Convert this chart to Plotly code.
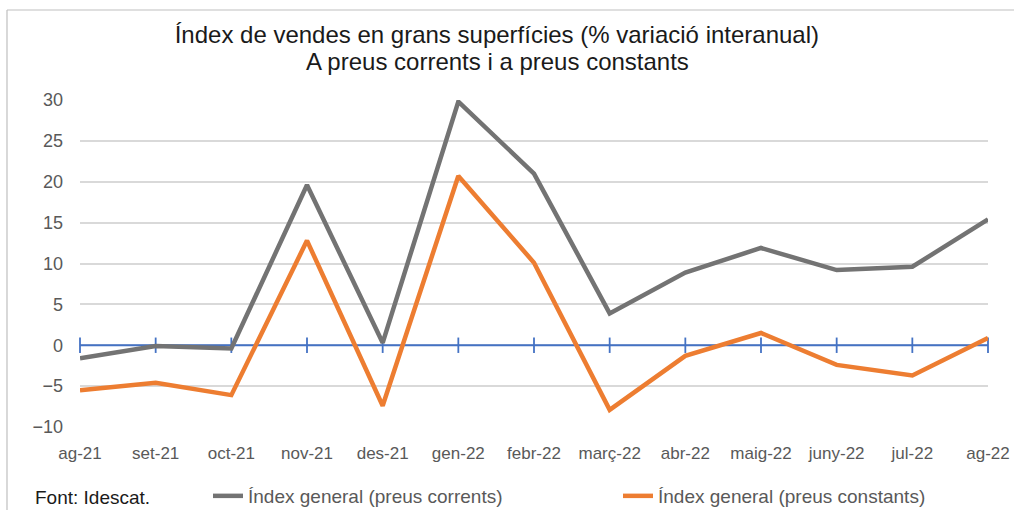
import plotly.graph_objects as go

categories = ["ag-21", "set-21", "oct-21", "nov-21", "des-21", "gen-22", "febr-22",
              "març-22", "abr-22", "maig-22", "juny-22", "jul-22", "ag-22"]
preus_corrents = [-1.6, -0.1, -0.4, 19.6, 0.3, 29.8, 21.0, 3.9, 8.9, 11.9, 9.2, 9.6, 15.4]
preus_constants = [-5.5, -4.6, -6.1, 12.8, -7.4, 20.7, 10.1, -7.9, -1.3, 1.5, -2.4, -3.7, 0.9]
zero_line = [0] * len(categories)
y_ticks = [-10, -5, 0, 5, 10, 15, 20, 25, 30]
title_line1 = "Índex de vendes en grans superfícies (% variació interanual)"
title_line2 = "A preus corrents i a preus constants"

FONT = "Liberation Sans, Arial, sans-serif"
GRAY_TXT = "#595959"

fig = go.Figure()

fig.add_trace(go.Scatter(
    x=categories, y=zero_line, mode="lines+markers",
    line=dict(color="#4472C4", width=1.8),
    marker=dict(symbol="line-ns-open", size=11, line=dict(color="#4472C4", width=1.8)),
    showlegend=False, hoverinfo="skip", cliponaxis=False,
))
fig.add_trace(go.Scatter(
    x=categories, y=preus_corrents, mode="lines",
    name="Índex general (preus corrents)", legend="legend",
    line=dict(color="#737373", width=4.5),
))
fig.add_trace(go.Scatter(
    x=categories, y=preus_constants, mode="lines",
    name="Índex general (preus constants)", legend="legend2",
    line=dict(color="#ED7D31", width=4.5),
))

leg_common = dict(orientation="h", xanchor="left", yanchor="top",
                  y=(427 - 477) / 327, font=dict(size=19, color=GRAY_TXT),
                  bgcolor="rgba(0,0,0,0)")

fig.update_layout(
    width=1014, height=510,
    margin=dict(l=80, r=26, t=100, b=83, autoexpand=False),
    paper_bgcolor="white", plot_bgcolor="white",
    font=dict(family=FONT, color=GRAY_TXT, size=17),
    title=dict(
        text=title_line1,
        x=0.49, xref="container", xanchor="center",
        y=1 - 35 / 510, yref="container", yanchor="middle",
        font=dict(family=FONT, size=24, color="#1a1a1a"),
    ),
    xaxis=dict(
        type="category", range=[0, 12], showgrid=False, zeroline=False,
        showline=False, ticks="outside", ticklen=11, tickcolor="rgba(0,0,0,0)",
        tickfont=dict(size=17, color=GRAY_TXT),
    ),
    yaxis=dict(
        range=[-10, 30], tickvals=y_ticks, showgrid=True,
        gridcolor="#D9D9D9", gridwidth=1.5, zeroline=False, showline=False,
        ticks="", ticklabelstandoff=16,
        tickfont=dict(size=18, color=GRAY_TXT),
    ),
    legend=dict(x=(208 - 80) / 908, **leg_common),
    legend2=dict(x=(618 - 80) / 908, **leg_common),
    showlegend=True,
)

fig.add_annotation(
    text=title_line2, xref="paper", yref="paper",
    x=(497 - 80) / 908, xanchor="center", y=(427 - 62) / 327, yanchor="middle",
    showarrow=False, font=dict(size=24, color="#1a1a1a", family=FONT),
)

# chart frame (left and top borders)
fig.add_shape(type="line", xref="paper", yref="paper",
              x0=(7 - 80) / 908, x1=(1014 - 80) / 908 + 0.05,
              y0=(427 - 10) / 327, y1=(427 - 10) / 327,
              line=dict(color="#BFBFBF", width=1.2))
fig.add_shape(type="line", xref="paper", yref="paper",
              x0=(7 - 80) / 908, x1=(7 - 80) / 908,
              y0=(427 - 10) / 327, y1=(427 - 520) / 327,
              line=dict(color="#BFBFBF", width=1.2))

fig.add_annotation(
    text="Font: Idescat.", xref="paper", yref="paper",
    x=(33 - 80) / 908, xanchor="left", y=(427 - 497) / 327, yanchor="middle",
    showarrow=False, font=dict(size=19, color="#1a1a1a", family=FONT),
)

fig.write_html("out.html", config={"displayModeBar": False},
               post_script="document.body.style.margin='0px';")
